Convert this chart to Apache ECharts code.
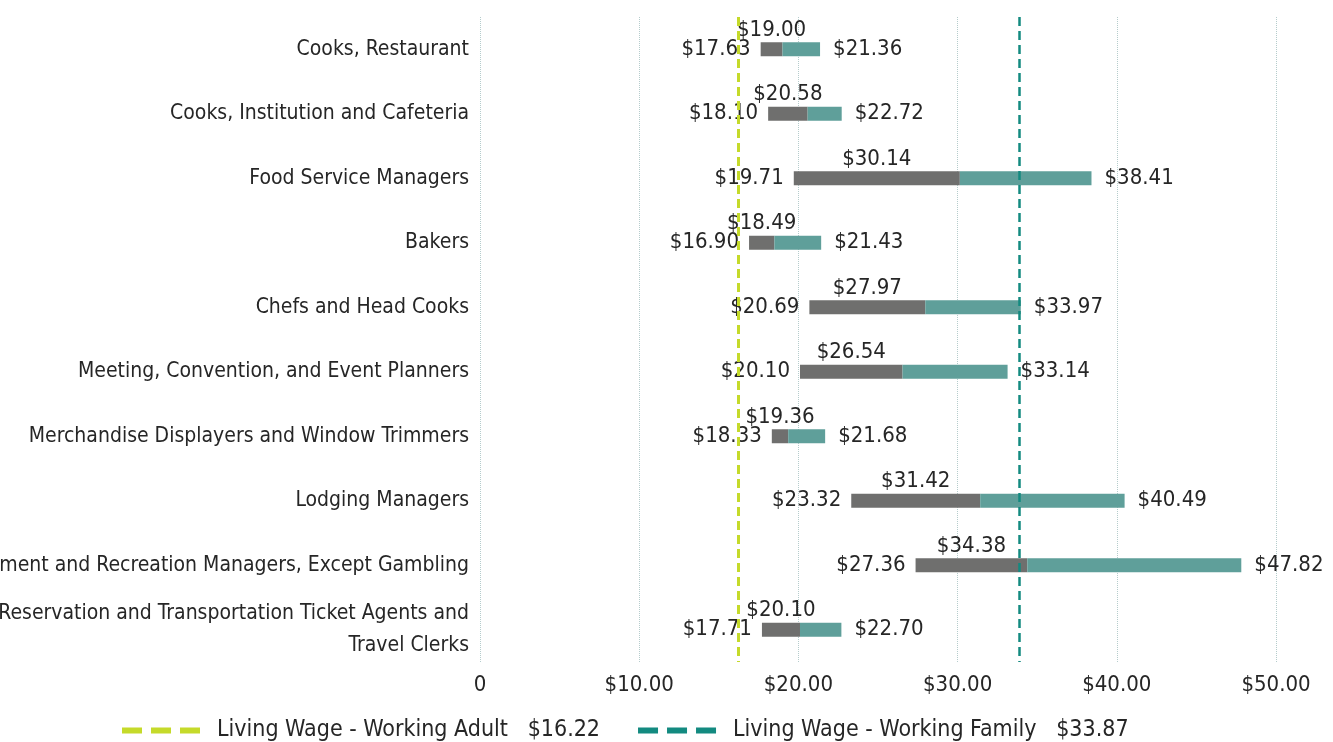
<!DOCTYPE html>
<html>
<head>
<meta charset="utf-8">
<script src="https://cdn.jsdelivr.net/npm/echarts@6/dist/echarts.min.js"></script>
<style>
  html, body { margin: 0; padding: 0; background: #fff; }
  #chart { width: 1333px; height: 742px; }
</style>
</head>
<body>
<div id="chart"></div>
<script>
  // occupations, top to bottom
  const categories = [
    'Cooks, Restaurant',
    'Cooks, Institution and Cafeteria',
    'Food Service Managers',
    'Bakers',
    'Chefs and Head Cooks',
    'Meeting, Convention, and Event Planners',
    'Merchandise Displayers and Window Trimmers',
    'Lodging Managers',
    'Entertainment and Recreation Managers, Except Gambling',
    'Reservation and Transportation Ticket Agents and\nTravel Clerks',
  ];
  const lowWage = [17.63, 18.10, 19.71, 16.90, 20.69, 20.10, 18.33, 23.32, 27.36, 17.71];
  const medianWage = [19.00, 20.58, 30.14, 18.49, 27.97, 26.54, 19.36, 31.42, 34.38, 20.10];
  const highWage = [21.36, 22.72, 38.41, 21.43, 33.97, 33.14, 21.68, 40.49, 47.82, 22.70];

  const livingWageNames = ['Living Wage - Working Adult', 'Living Wage - Working Family'];
  const livingWageValues = [16.22, 33.87];
  const xTicks = [0, 10, 20, 30, 40, 50];

  const FONT = '"Liberation Sans Narrow", "DejaVu Sans Condensed", sans-serif';
  const TEXT = '#262626';
  const lineColors = ['#c5da2a', '#138a80'];

  const money = (v) => '$' + Number(v).toFixed(2);
  const dashIcon = 'path://M0,0h20v6h-20z M29,0h20v6h-20z M58,0h20v6h-20z';

  const chart = echarts.init(document.getElementById('chart'), null, { renderer: 'canvas' });

  const labelStyle = { show: true, color: TEXT, fontSize: 22, fontFamily: FONT };

  const wageLineSeries = livingWageNames.map((name, i) => ({
    name,
    type: 'line',
    data: [],
    z: 10,
    itemStyle: { color: lineColors[i] },
    lineStyle: { color: lineColors[i] },
    markLine: {
      silent: true,
      symbol: 'none',
      label: { show: false },
      lineStyle: { color: lineColors[i], width: i === 0 ? 3 : 2.5, type: [9, 5] },
      data: [{ xAxis: livingWageValues[i] }],
    },
  }));

  chart.setOption({
    animation: false,
    grid: { left: 480, right: 57, top: 17, bottom: 80, containLabel: false, outerBoundsMode: 'none' },
    legend: {
      data: livingWageNames.map((n) => ({ name: n, icon: dashIcon })),
      left: 117,
      top: 714,
      itemWidth: 78,
      itemHeight: 6,
      itemGap: 38,
      formatter: (name) => name + '   ' + money(livingWageValues[livingWageNames.indexOf(name)]),
      textStyle: { color: TEXT, fontSize: 23, fontFamily: FONT, padding: [0, 0, 0, 12] },
    },
    xAxis: {
      type: 'value',
      min: xTicks[0],
      max: xTicks[xTicks.length - 1],
      interval: 10,
      axisLine: { show: false },
      axisTick: { show: false },
      axisLabel: {
        color: TEXT,
        fontSize: 22,
        fontFamily: FONT,
        margin: 12,
        formatter: (v) => (v === 0 ? '0' : money(v)),
      },
      splitLine: { show: true, lineStyle: { type: 'dotted', color: '#b5cccc', width: 1 } },
    },
    yAxis: {
      type: 'category',
      data: categories,
      inverse: true,
      axisLine: { show: false },
      axisTick: { show: false },
      splitLine: { show: false },
      axisLabel: {
        color: TEXT,
        fontSize: 21,
        fontFamily: FONT,
        margin: 11,
        lineHeight: 32,
      },
    },
    series: [
      {
        name: 'low',
        type: 'bar',
        stack: 'wage',
        barWidth: 14,
        data: lowWage,
        itemStyle: { color: 'rgba(0,0,0,0)' },
        label: { ...labelStyle, position: 'insideRight', distance: 10, formatter: (p) => money(p.value) },
      },
      {
        name: 'median',
        type: 'bar',
        stack: 'wage',
        barWidth: 14,
        data: medianWage.map((m, i) => +(m - lowWage[i]).toFixed(2)),
        itemStyle: { color: '#6f6f6e' },
        label: { ...labelStyle, position: 'top', distance: 1, formatter: (p) => money(medianWage[p.dataIndex]) },
      },
      {
        name: 'high',
        type: 'bar',
        stack: 'wage',
        barWidth: 14,
        data: highWage.map((h, i) => +(h - medianWage[i]).toFixed(2)),
        itemStyle: { color: '#5f9f9a' },
        label: { ...labelStyle, position: 'right', distance: 13, formatter: (p) => money(highWage[p.dataIndex]) },
      },
      ...wageLineSeries,
    ],
  });

  window.addEventListener('resize', () => chart.resize());
</script>
</body>
</html>
